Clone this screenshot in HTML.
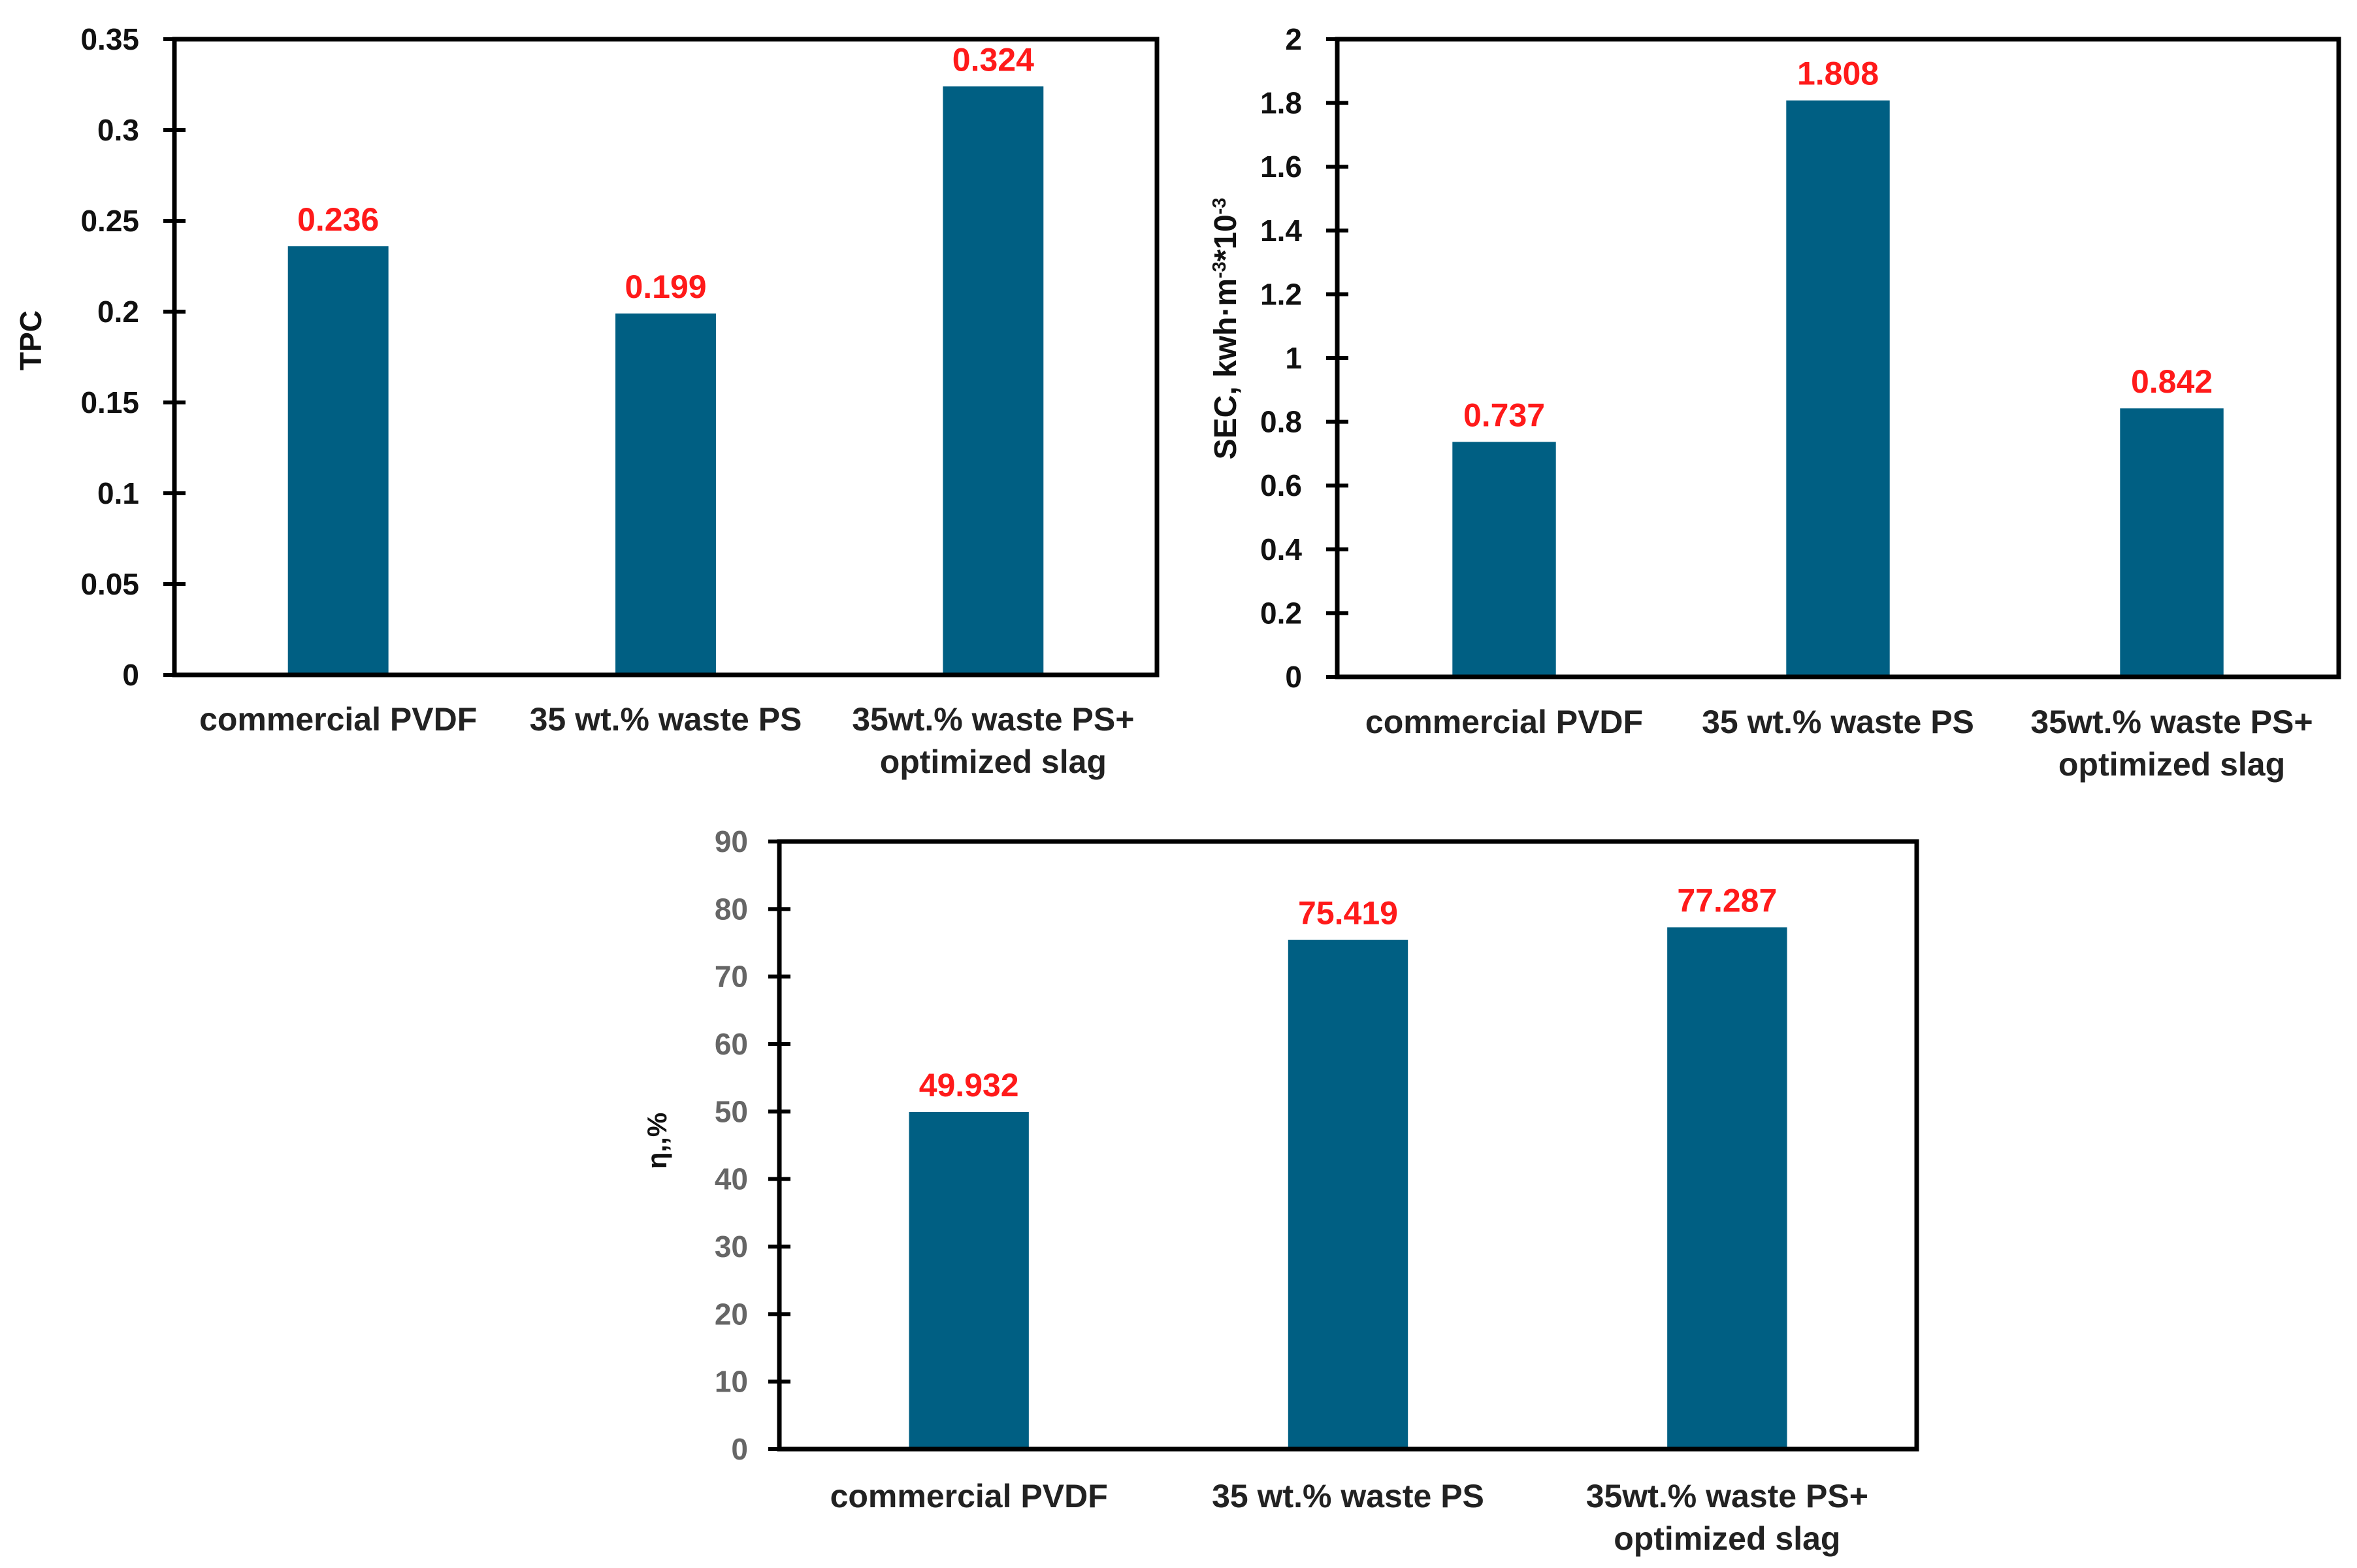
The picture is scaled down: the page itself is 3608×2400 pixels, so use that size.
<!DOCTYPE html>
<html><head><meta charset="utf-8">
<style>
html,body{margin:0;padding:0;background:#fff;}
svg{display:block;font-family:"Liberation Sans",sans-serif;}
</style></head>
<body>
<svg id="fig" width="3608" height="2400" viewBox="0 0 3608 2400" xmlns="http://www.w3.org/2000/svg">
<rect x="0" y="0" width="3608" height="2400" fill="#fff"/>
</svg>
<script>
const categories = [["commercial PVDF"],["35 wt.% waste PS"],["35wt.% waste PS+","optimized slag"]];
const tpcValues = [0.236, 0.199, 0.324];
const tpcLabels = ["0.236","0.199","0.324"];
const tpcTicks = [0,0.05,0.1,0.15,0.2,0.25,0.3,0.35];
const tpcTickLabels = ["0","0.05","0.1","0.15","0.2","0.25","0.3","0.35"];
const secValues = [0.737, 1.808, 0.842];
const secLabels = ["0.737","1.808","0.842"];
const secTicks = [0,0.2,0.4,0.6,0.8,1,1.2,1.4,1.6,1.8,2];
const secTickLabels = ["0","0.2","0.4","0.6","0.8","1","1.2","1.4","1.6","1.8","2"];
const etaValues = [49.932, 75.419, 77.287];
const etaLabels = ["49.932","75.419","77.287"];
const etaTicks = [0,10,20,30,40,50,60,70,80,90];
const etaTickLabels = ["0","10","20","30","40","50","60","70","80","90"];

const NS = "http://www.w3.org/2000/svg";
const svg = document.getElementById('fig');
function mk(tag, attrs, parent){
  const e = document.createElementNS(NS, tag);
  for (const k in attrs) e.setAttribute(k, attrs[k]);
  (parent||svg).appendChild(e);
  return e;
}
function drawChart(cfg){
  const g = mk('g', {});
  
  
  const {L,R,T,B,ymax} = cfg;
  const yScale = v => B - (v/ymax)*(B-T);
  const band = (R-L)/cfg.values.length;
  const xCenter = i => L + band*(i+0.5);
  const bw = band*cfg.barFrac;
  cfg.values.forEach((v,i)=>{
    const r = mk('rect', {x:xCenter(i)-bw/2, y:yScale(v), width:bw, height:B-yScale(v), fill:'#005f83'}, g);
    
    
    const t = mk('text', {x:xCenter(i), y:yScale(v)-24, 'text-anchor':'middle', 'font-size':50, 'font-weight':'bold', fill:'#ff1a1a'}, g);
    t.textContent = cfg.labels[i];
    
    
  });
  const frame = mk('rect', {x:L, y:T, width:R-L, height:B-T, fill:'none', stroke:'#000', 'stroke-width':7}, g);
  
  
  cfg.ticks.forEach((v,i)=>{
    const y = yScale(v);
    const tk = mk('line', {x1:L-17, x2:L+17, y1:y, y2:y, stroke:'#000', 'stroke-width':6}, g);
    
    
    const tl = mk('text', {x:cfg.tickX, y:y+16, 'text-anchor':'end', 'font-size':46, 'font-weight':'bold', fill:cfg.tickColor}, g);
    tl.textContent = cfg.tickLabels[i];
    
    
  });
  categories.forEach((lines,i)=>{
    lines.forEach((ln,j)=>{
      const c = mk('text', {x:xCenter(i), y:cfg.catY + j*65, 'text-anchor':'middle', 'font-size':50, 'font-weight':'bold', fill:'#222'}, g);
      c.textContent = ln;
      
      
    });
  });
  const yt = mk('text', {x:0, y:0, transform:`translate(${cfg.titleX},${cfg.titleY}) rotate(-90)`, 'text-anchor':'middle', 'font-size':cfg.titleSize, 'font-weight':'bold', fill:'#111'}, g);
  
  
  cfg.title.forEach(p=>{
    const ts = mk('tspan', p.sup ? {'baseline-shift':'super','font-size':cfg.titleSize*0.6} : {}, yt);
    ts.textContent = p.t;
  });
}
drawChart({name:'tpc-chart', L:267, R:1771, T:60, B:1033, ymax:0.35, values:tpcValues, labels:tpcLabels,
  ticks:tpcTicks, tickLabels:tpcTickLabels, tickX:213, tickColor:'#111', catY:1118, barFrac:0.307,
  titleX:63, titleY:521, titleSize:46, title:[{t:'TPC'}]});
drawChart({name:'sec-chart', L:2047, R:3580, T:60, B:1036, ymax:2, values:secValues, labels:secLabels,
  ticks:secTicks, tickLabels:secTickLabels, tickX:1993, tickColor:'#111', catY:1122, barFrac:0.31,
  titleX:1892, titleY:503, titleSize:48, title:[{t:'SEC, kwh·m'},{t:'-3',sup:true},{t:'*10'},{t:'-3',sup:true}]});
drawChart({name:'eta-chart', L:1193, R:2934, T:1288, B:2218, ymax:90, values:etaValues, labels:etaLabels,
  ticks:etaTicks, tickLabels:etaTickLabels, tickX:1145, tickColor:'#666', catY:2307, barFrac:0.316,
  titleX:1020, titleY:1746, titleSize:42, title:[{t:'η,,%'}]});
</script>
</body></html>
